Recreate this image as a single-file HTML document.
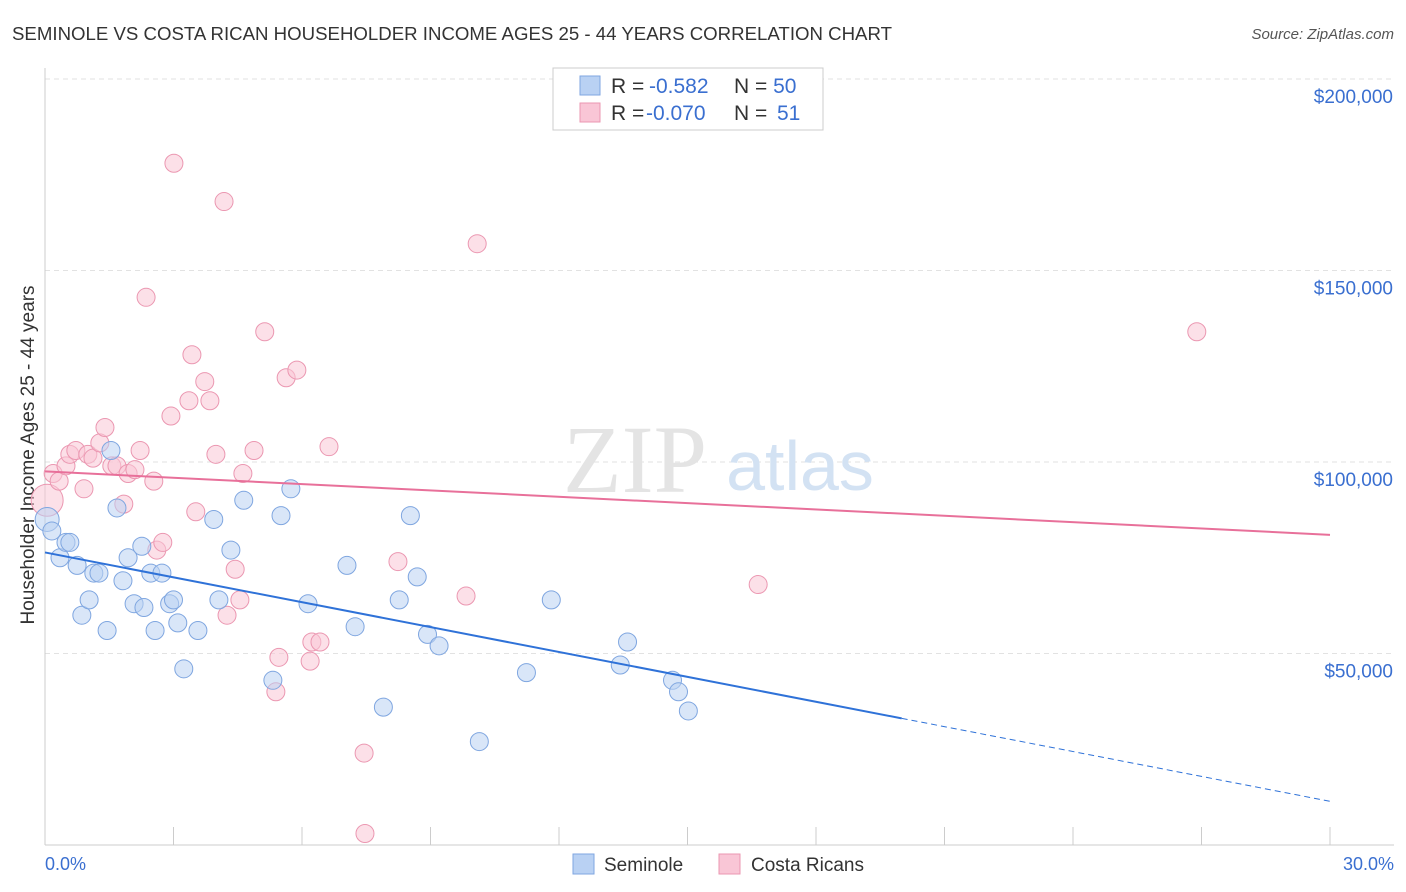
<!DOCTYPE html>
<html><head><meta charset="utf-8"><style>
body{margin:0;background:#fff;font-family:"Liberation Sans",sans-serif;}
svg{display:block}
</style></head><body>
<svg id="chart" width="1406" height="892" viewBox="0 0 1406 892">
<text x="12" y="40" font-size="18" fill="#333" textLength="880" lengthAdjust="spacingAndGlyphs">SEMINOLE VS COSTA RICAN HOUSEHOLDER INCOME AGES 25 - 44 YEARS CORRELATION CHART</text>
<text x="1394" y="39" font-size="15" fill="#555" font-style="italic" text-anchor="end">Source: ZipAtlas.com</text>
<g id="grid"></g>
<g id="watermark">
<text x="635" y="492" font-size="96" fill="#e4e4e4" font-family="Liberation Serif,serif" text-anchor="middle">ZIP</text>
<text x="800" y="490" font-size="70" fill="#d3e2f3" text-anchor="middle">atlas</text>
</g>
<line x1="45" y1="68" x2="45" y2="845" stroke="#ccc"/>
<line x1="45" y1="845" x2="1394" y2="845" stroke="#ccc"/>
<g id="ticks"></g>
<text x="45" y="870" font-size="18" fill="#3a6fd0">0.0%</text>
<text x="1394" y="870" font-size="18" fill="#3a6fd0" text-anchor="end">30.0%</text>
<text transform="translate(34,455) rotate(-90)" font-size="19" fill="#333" text-anchor="middle">Householder Income Ages 25 - 44 years</text>
<g id="pts"></g>
<g id="trends"></g>
<g>
<rect x="553" y="68" width="270" height="62" fill="#fff" stroke="#ccc"/>
<rect x="580" y="76" width="20" height="19" fill="#b9d1f3" stroke="#7fa6e0"/>
<rect x="580" y="103" width="20" height="19" fill="#f9c6d6" stroke="#eb97b1"/>
<text x="611" y="93" font-size="21" fill="#333">R = <tspan fill="#3a6fd0" x="649">-0.582</tspan><tspan x="734">N = </tspan><tspan fill="#3a6fd0">50</tspan></text>
<text x="611" y="120" font-size="21" fill="#333">R = <tspan fill="#3a6fd0" x="646">-0.070</tspan><tspan x="734">N = </tspan><tspan fill="#3a6fd0" x="777">51</tspan></text>
</g>
<g>
<rect x="573" y="854" width="21" height="20" fill="#b9d1f3" stroke="#7fa6e0"/>
<text x="604" y="871" font-size="19" fill="#333">Seminole</text>
<rect x="719" y="854" width="21" height="20" fill="#f9c6d6" stroke="#eb97b1"/>
<text x="751" y="871" font-size="19" fill="#333">Costa Ricans</text>
</g>
</svg>
<script>
const yTicks=[50000,100000,150000,200000];
const yTickLabels=["$50,000","$100,000","$150,000","$200,000"];
const xTicks=[0,3,6,9,12,15,18,21,24,27,30];
const seminoleX=[0.05,0.16,0.35,0.49,0.58,0.75,0.86,1.03,1.14,1.26,1.45,1.54,1.68,1.82,1.94,2.08,2.26,2.31,2.47,2.57,2.73,2.91,3.0,3.1,3.24,3.57,3.94,4.06,4.34,4.64,5.32,5.51,5.74,6.14,7.05,7.24,7.9,8.27,8.53,8.69,8.93,9.2,10.14,11.24,11.82,13.43,13.6,14.65,14.79,15.02];
const seminoleY=[85000,82000,75000,79000,79000,73000,60000,64000,71000,71000,56000,103000,88000,69000,75000,63000,78000,62000,71000,56000,71000,63000,64000,58000,46000,56000,85000,64000,77000,90000,43000,86000,93000,63000,73000,57000,36000,64000,86000,70000,55000,52000,27000,45000,64000,47000,53000,43000,40000,35000];
const costaX=[0.05,0.19,0.33,0.49,0.58,0.72,0.91,1.0,1.12,1.28,1.4,1.56,1.68,1.84,1.94,2.1,2.22,2.36,2.54,2.61,2.75,2.94,3.01,3.36,3.43,3.52,3.73,3.85,3.99,4.18,4.25,4.44,4.55,4.62,4.88,5.13,5.39,5.46,5.63,5.88,6.19,6.23,6.42,6.63,7.45,7.47,8.24,9.83,10.09,16.65,26.89];
const costaY=[90000,97000,95000,99000,102000,103000,93000,102000,101000,105000,109000,99000,99000,89000,97000,98000,103000,143000,95000,77000,79000,112000,178000,116000,128000,87000,121000,116000,102000,168000,60000,72000,64000,97000,103000,134000,40000,49000,122000,124000,48000,53000,53000,104000,24000,3000,74000,65000,157000,68000,134000];
const X0=45,X1=1330,Y0=845,PY=191.5/50000;
const xs=v=>X0+(v/30)*(X1-X0), ys=v=>Y0-v*PY;
const NS="http://www.w3.org/2000/svg";
function mk(t,a,p){const e=document.createElementNS(NS,t);for(const k in a)e.setAttribute(k,a[k]);p.appendChild(e);return e;}
const grid=document.getElementById('grid'),ticks=document.getElementById('ticks'),pts=document.getElementById('pts'),tr=document.getElementById('trends');
yTicks.forEach((v,i)=>{
const l=mk('line',{x1:45,x2:1394,y1:ys(v),y2:ys(v),stroke:'#e2e2e2','stroke-dasharray':'5,4'},grid);


const t=mk('text',{x:1393,y:ys(v)+24,'font-size':19,fill:'#3a6fd0','text-anchor':'end'},ticks);
t.textContent=yTickLabels[i];


});
mk('line',{x1:45,x2:1394,y1:79,y2:79,stroke:'#e2e2e2','stroke-dasharray':'5,4'},grid);
xTicks.forEach(v=>{
const l=mk('line',{x1:xs(v),x2:xs(v),y1:827,y2:845,stroke:'#ccc'},ticks);


});
function series(X,Y,fill,stroke,name){
X.forEach((x,i)=>{
const r=(i===0)?(name==='costa-rican-point'?16:12):9;
const c=mk('circle',{cx:xs(x),cy:ys(Y[i]),r:r,fill:fill,'fill-opacity':0.55,stroke:stroke,'stroke-width':1},pts);


});
}
series(costaX,costaY,'#f9c6d6','#eb97b1','costa-rican-point');
series(seminoleX,seminoleY,'#b9d1f3','#7fa6e0','seminole-point');
function fit(X,Y){const n=X.length;let mx=0,my=0;X.forEach((x,i)=>{mx+=x;my+=Y[i]});mx/=n;my/=n;let sxy=0,sxx=0;X.forEach((x,i)=>{sxy+=(x-mx)*(Y[i]-my);sxx+=(x-mx)**2});const b=sxy/sxx;return [my-b*mx,b];}
const [ab,bb]=fit(seminoleX,seminoleY);
let l=mk('line',{x1:xs(0),y1:ys(ab),x2:xs(20),y2:ys(ab+bb*20),stroke:'#2f72d8','stroke-width':2},tr);


l=mk('line',{x1:xs(20),y1:ys(ab+bb*20),x2:xs(30),y2:ys(ab+bb*30),stroke:'#2f72d8','stroke-width':1,'stroke-dasharray':'6,4'},tr);


const [ac,bc]=fit(costaX,costaY);
l=mk('line',{x1:xs(0),y1:ys(ac),x2:xs(30),y2:ys(ac+bc*30),stroke:'#e8709a','stroke-width':2},tr);


</script>
</body></html>
